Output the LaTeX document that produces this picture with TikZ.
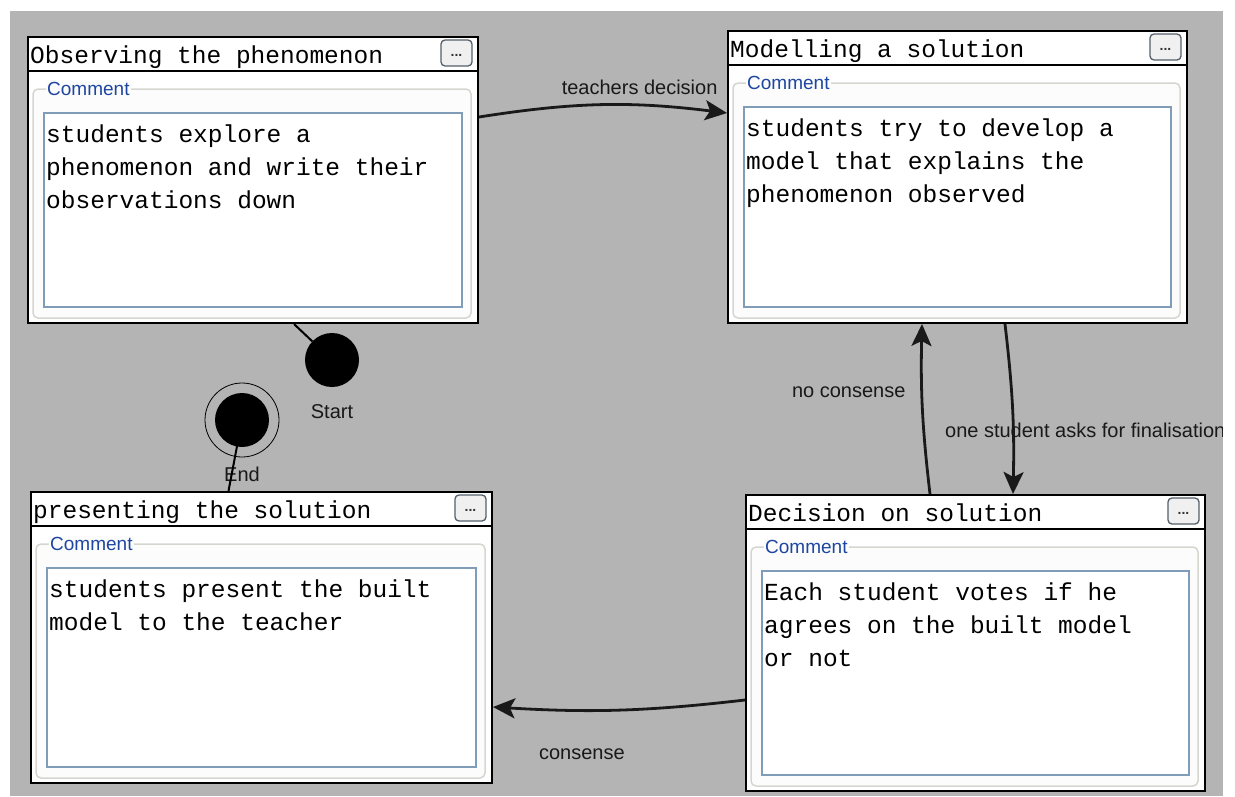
\documentclass[tikz,border=0pt]{standalone}
\usepackage{fontspec}
\setmainfont{Liberation Sans}
\newfontfamily\monofont{Liberation Mono}
\usepackage{tikz}
\usetikzlibrary{arrows,arrows.meta,shapes,positioning}
\definecolor{canvas}{RGB}{180,180,180}
\definecolor{commentblue}{RGB}{30,70,160}
\definecolor{fieldedge}{RGB}{127,157,185}
\definecolor{frameedge}{RGB}{214,214,208}
\definecolor{buttonedge}{RGB}{85,95,105}
\tikzstyle{stage}=[rectangle, draw, line width=2pt, fill=white
%,fill=black!25
,anchor=north west
,inner sep=0pt
]
\tikzstyle{initial}=[circle, fill=black, minimum size=54pt, inner sep=0pt]
\tikzstyle{final}=[circle, draw, line width=0.8pt, minimum size=74pt, inner sep=0pt]
\tikzstyle{elabel}=[font=\fontsize{20}{24}\selectfont, text=black!90, inner sep=1pt]
\tikzstyle{edge} = [draw,line width=2pt,-]
\tikzstyle{trans} = [draw,line width=2.8pt,black!90,-{Stealth[length=22pt,width=20pt,inset=5pt]}]

\begin{document}
\begin{tikzpicture}[x=1pt,y=-1pt]
    \useasboundingbox (0,0) rectangle (1235,796);
    \fill[white] (0,0) rectangle (1235,796);
    \fill[canvas] (10,11) rectangle (1223,796);

    % First we draw the activity boxes
    \foreach \x/\y/\w/\h/\name/\stitle/\stext in {
        27/36/450/286/obs/{Observing the phenomenon}/{students explore a\\phenomenon and write their\\observations down},
        727/30/459/292/model/{Modelling a solution}/{students try to develop a\\model that explains the\\phenomenon observed},
        30/491/461/291/pres/{presenting the solution}/{students present the built\\model to the teacher},
        745/494/459/296/dec/{Decision on solution}/{Each student votes if he\\agrees on the built model\\or not}}
    {
        \node[stage, minimum width=\w pt, minimum height=\h pt] (\name) at (\x,\y) {};
        \draw[line width=1.6pt] (\x,\y+35) -- (\x+\w,\y+35);
        \draw[frameedge, line width=1.5pt, rounded corners=5pt, fill=black!1] (\x+6,\y+53) rectangle (\x+\w-6,\y+\h-4);
        \draw[fieldedge, line width=1.5pt, fill=white] (\x+17,\y+77) rectangle (\x+\w-15,\y+\h-15);
        \node[anchor=west, fill=black!1, inner sep=1pt, text=commentblue, font=\fontsize{19}{22}\selectfont] (\name-c) at (\x+19,\y+53) {Comment};
        \node[anchor=base west, inner sep=0pt, font=\monofont\fontsize{24.5}{28}\selectfont] (\name-t) at (\x+3,\y+27) {\stitle};
        \node[anchor=north west, inner sep=0pt, align=left, font=\monofont\fontsize{24.5}{33}\selectfont] (\name-b) at (\x+19,\y+89) {\stext};
        \draw[buttonedge, line width=1.3pt, rounded corners=4pt, fill=black!6] (\x+\w-36,\y+4) rectangle (\x+\w-5,\y+30);
        \node[inner sep=0pt, font=\bfseries\fontsize{14}{14}\selectfont, text=black!80] (\name-d) at (\x+\w-20.5,\y+19) {...};
    }

    % Start and end states
    \node[initial] (start) at (332,360) {};
    \node[elabel, below=16pt of start] (startlbl) {Start};
    \node[final] (end) at (242,420) {};
    \node[initial] (endcore) at (end.center) {};
    \node[elabel, below=8pt of end] (endlbl) {End};

    % Connect states with transitions
    \path[edge] ([xshift=41pt]obs.south) -- (start);
    \path[edge] (end.center) -- ([xshift=-33pt]pres.north);
    \path[trans] ([yshift=-81pt]obs.north east) to[bend left=8]
        node[elabel, pos=0.66, above=8pt] (teachlbl) {teachers decision} ([yshift=-83pt]model.north west);
    \path[trans] ([xshift=278pt]model.south west) to[bend left=4]
        node[elabel, pos=0.64, xshift=72pt] (asklbl) {one student asks for finalisation} ([xshift=268pt]dec.north west);
    \path[trans] ([xshift=185pt]dec.north west) to[bend left=4]
        node[elabel, pos=0.61, left=14pt] (nolbl) {no consense} ([xshift=195pt]model.south west);
    \path[trans] ([yshift=-206pt]dec.north west) to[bend left=5]
        node[elabel, pos=0.66, below=36pt] (conslbl) {consense} ([yshift=-216pt]pres.north east);

    \fill[white] (1223,0) rectangle (1235,796);
\end{tikzpicture}
\end{document}
